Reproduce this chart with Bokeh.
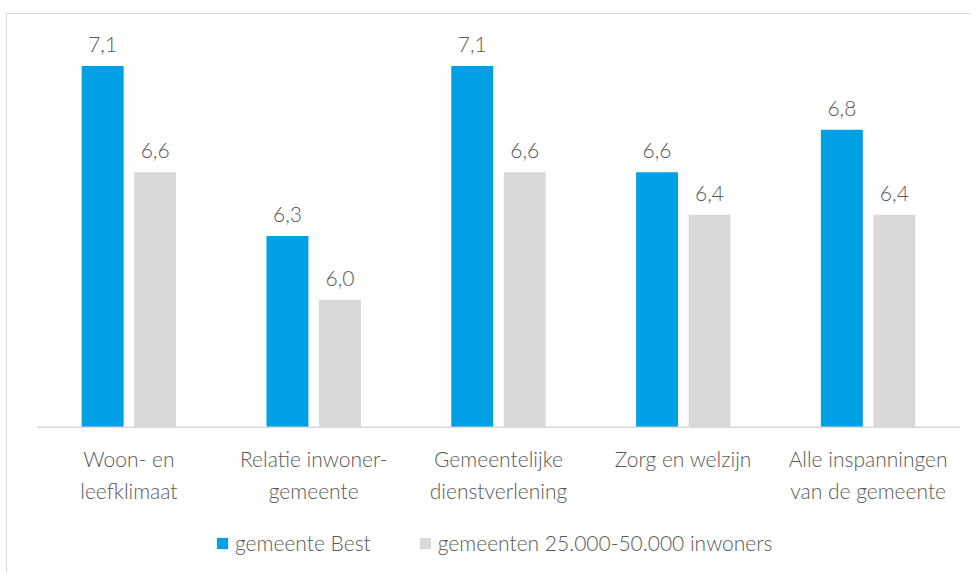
from bokeh.plotting import figure
from bokeh.models import ColumnDataSource, FactorRange, Range1d, LabelSet, Legend, LegendItem, Span
from bokeh.transform import dodge
from bokeh.core.properties import value
from bokeh.embed import file_html
from bokeh.resources import INLINE

categories = ["Woon- en\nleefklimaat", "Relatie inwoner-\ngemeente", "Gemeentelijke\ndienstverlening",
              "Zorg en welzijn", "Alle inspanningen\nvan de gemeente"]
series_names = ["gemeente Best", "gemeenten 25.000-50.000 inwoners"]
best = [7.1, 6.3, 7.1, 6.6, 6.8]
others = [6.6, 6.0, 6.6, 6.4, 6.4]
axis_min = 5.4

FONT = "Lato Light"
TXT = "#595959"
BLUE = "#00a0e6"
GREY = "#d9d9d9"

lines = [c.split("\n") + [""] * (2 - len(c.split("\n"))) for c in categories]
src = ColumnDataSource(dict(
    cat=categories,
    line1=[l[0] for l in lines],
    line2=[l[1] for l in lines],
    base=[axis_min] * len(categories),
    best=best,
    others=others,
    best_lbl=[f"{v:.1f}".replace(".", ",") for v in best],
    others_lbl=[f"{v:.1f}".replace(".", ",") for v in others],
))

p = figure(frame_width=924, frame_height=549, output_backend="svg", toolbar_location=None,
           x_range=FactorRange(*categories, range_padding=0),
           y_range=Range1d(4.7165, 7.3), y_axis_location=None, x_axis_location=None,
           min_border_left=29, min_border_right=10, min_border_top=9, min_border_bottom=0)
p.margin = (13, 0, 0, 6)
p.styles = {"border-top": "1px solid #d9d9d9", "border-left": "1px solid #d9d9d9"}
p.outline_line_color = None
p.xgrid.grid_line_color = None
p.ygrid.grid_line_color = None

r1 = p.vbar(x=dodge("cat", -0.142, range=p.x_range), top="best", bottom=axis_min, width=0.227,
            source=src, fill_color=BLUE, line_color=None)
r2 = p.vbar(x=dodge("cat", 0.142, range=p.x_range), top="others", bottom=axis_min, width=0.227,
            source=src, fill_color=GREY, line_color=None)

# category axis line
p.add_layout(Span(location=axis_min, dimension="width", line_color=GREY, line_width=1.5))

for fld, off in (("best_lbl", -0.142), ("others_lbl", 0.142)):
    top = "best" if fld == "best_lbl" else "others"
    p.add_layout(LabelSet(x=dodge("cat", off, range=p.x_range), y=top, text=fld, source=src,
                          text_align="center", text_baseline="bottom", y_offset=14,
                          text_font=value(FONT), text_font_size="21px", text_color=TXT))

# category tick labels (two centred lines)
for fld, off in (("line1", -31.5), ("line2", -63.5)):
    p.add_layout(LabelSet(x="cat", y="base", text=fld, source=src,
                          text_align="center", text_baseline="middle", y_offset=off,
                          text_font=value(FONT), text_font_size="21px", text_color=TXT))

legend = Legend(items=[LegendItem(label=series_names[0], renderers=[r1]),
                       LegendItem(label=series_names[1], renderers=[r2])],
                orientation="horizontal", location=(179, 17),
                glyph_width=14, glyph_height=14, label_text_font=FONT,
                label_text_font_size="21px", label_text_color=TXT,
                label_standoff=6, spacing=47, border_line_color=None,
                background_fill_alpha=0, margin=0, padding=0)
p.add_layout(legend, "center")

open("out.html", "w").write(file_html(p, INLINE))
